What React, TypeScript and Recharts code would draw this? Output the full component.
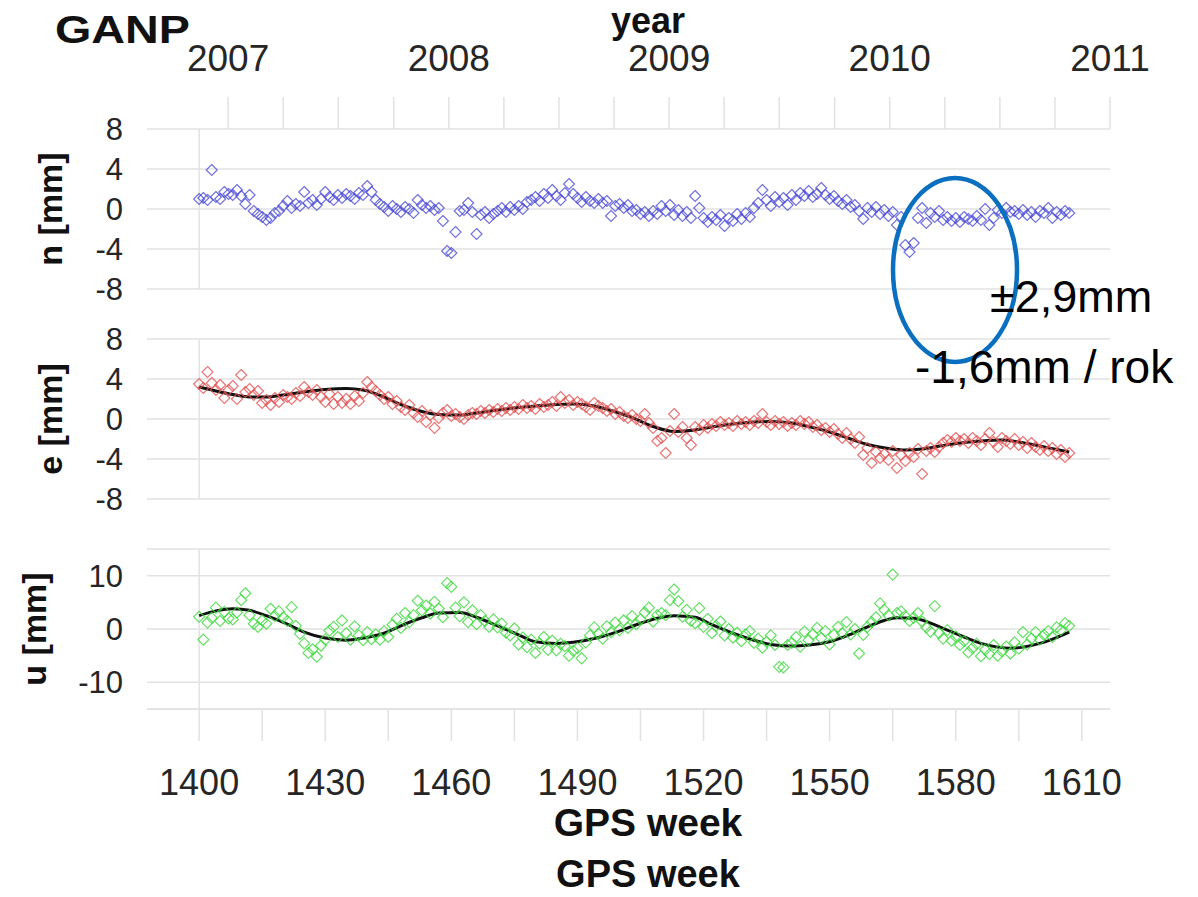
import React from "react";
import { ComposedChart, Scatter, Line, XAxis, YAxis, CartesianGrid, ReferenceLine } from "recharts";

// weekly solutions, first one is GPS week 1400
const FIRST_WEEK = 1400;

const nValues = [
  1.0, 1.1, 0.9, 3.9, 1.2, 1.0, 1.7, 1.5, 1.4, 1.9,
  1.3, 0.5, 1.4, -0.2, -0.5, -0.8, -1.1, -0.9, -0.4, -0.2,
  0.3, 0.8, 0.1, 0.5, 0.3, 1.7, 0.6, 0.9, 0.4, 1.0,
  1.7, 1.2, 0.9, 1.4, 1.1, 1.5, 1.3, 1.0, 1.6, 1.4,
  2.3, 1.7, 0.9, 0.5, 0.2, -0.2, 0.3, 0.0, -0.3, 0.2,
  0.0, -0.4, 0.9, 0.4, 0.1, 0.3, -0.1, 0.1, -1.2, -4.2,
  -4.4, -2.3, -0.2, -0.1, 0.6, -0.3, -2.5, -0.6, -0.3, -0.9,
  -0.5, -0.2, 0.1, -0.3, 0.2, -0.1, 0.3, 0.0, 0.7, 0.9,
  1.2, 0.8, 1.5, 1.1, 1.9, 1.3, 0.9, 1.6, 2.5, 1.5,
  1.1, 0.7, 1.2, 0.8, 0.6, 1.0, 0.6, 0.8, -0.7, 0.3,
  0.5, 0.1, 0.4, -0.2, -0.1, -0.5, -0.3, -0.7, -0.2, -0.5,
  0.3, -0.2, 0.4, -0.6, -0.1, -0.7, -0.3, -0.9, 1.3, 0.1,
  -0.9, -1.3, -0.8, -1.1, -0.6, -1.7, -0.9, -1.2, -0.5, -1.0,
  -0.4, -0.8, 0.1, 0.6, 1.9, 0.9, 0.3, 1.2, 0.7, 1.1,
  0.4, 1.4, 0.9, 1.6, 1.3, 1.8, 1.2, 1.5, 2.1, 1.4,
  1.0, 1.3, 0.8, 0.5, 0.9, 0.2, 0.4, -0.2, -1.0, 0.1,
  -0.3, 0.2, -0.5, -0.1, -0.7, -0.3, -1.6, -0.8, -3.6, -4.3,
  -3.4, -0.9, 0.1, -1.4, -0.4, -0.8, -0.2, -1.1, -0.8, -1.2,
  -0.9, -1.3, -0.8, -1.0, -1.2, -0.7, -1.1, 0.0, -1.6, -0.9,
  -0.1, -0.4, 0.1, -0.3, -0.2, -0.5, -0.1, -0.6, -0.3, -0.8,
  -0.2, -0.4, 0.1, -0.9, -0.3, -0.6, -0.2, -0.4,
];

const eValues = [
  3.5, 3.1, 4.7, 3.6, 2.9, 3.4, 2.1, 2.9, 3.3, 2.0,
  4.4, 2.7, 3.0, 2.4, 2.8, 1.6, 1.9, 1.4, 2.1, 1.7,
  2.4, 2.2, 2.0, 2.6, 2.3, 3.2, 2.7, 2.4, 2.9, 2.2,
  1.7, 2.5, 1.5, 2.2, 1.6, 2.0, 1.5, 2.3, 1.8, 2.6,
  3.7, 3.2, 2.8, 2.4, 2.0, 2.2, 1.5, 1.8, 1.2, 0.9,
  1.4, 0.6, 0.2, 0.8, -0.3, 0.4, -0.9, 0.1, 0.6, 0.9,
  0.3, 0.5, 0.2, 0.0, 0.4, 0.6, 0.5, 0.8, 0.6, 0.9,
  0.7, 1.0, 0.8, 1.1, 0.9, 1.2, 1.0, 1.4, 1.1, 1.3,
  1.0, 1.5, 1.2, 1.4, 1.7, 1.3, 2.2, 1.6, 1.9, 1.4,
  1.7, 1.5, 1.2, 0.9, 1.6, 1.3, 1.1, 0.8, 1.0, 0.5,
  0.7, 0.3, 0.1, 0.4, 0.0, -0.2, 0.5, -0.4, -0.9, -2.2,
  -1.9, -3.4, -1.2, 0.5, -1.3, -0.8, -1.9, -2.6, -0.8, -1.1,
  -0.6, -0.9, -0.5, -0.7, -0.3, -0.6, -0.4, -0.7, -0.2, -0.5,
  -0.3, -0.6, -0.2, -0.4, 0.5, -0.3, -0.6, -0.2, -0.5, -0.3,
  -0.7, -0.4, -0.6, -0.2, -0.5, -0.3, -0.8, -0.6, -1.1, -0.9,
  -1.3, -1.0, -1.5, -1.9, -1.4, -2.0, -2.4, -1.8, -3.6, -2.9,
  -4.4, -3.3, -3.9, -3.5, -4.1, -3.2, -4.9, -3.6, -4.2, -3.4,
  -3.8, -3.0, -5.5, -3.2, -2.9, -3.3, -2.8, -2.4, -2.1, -2.3,
  -1.9, -2.2, -2.0, -2.4, -1.9, -2.2, -2.6, -2.0, -1.4, -2.3,
  -2.8, -1.9, -2.2, -2.5, -2.0, -2.6, -2.3, -2.9, -2.4, -2.8,
  -3.1, -2.7, -3.2, -2.9, -3.5, -3.1, -3.8, -3.4,
];

const uValues = [
  2.3, -2.0, 1.2, 2.1, 4.0, 1.5, 3.2, 2.0, 1.8, 3.1,
  5.4, 6.7, 2.6, 1.0, 0.4, 1.6, 1.0, 3.8, 2.4, 3.3,
  2.2, 1.5, 4.1, 0.6, -0.9, -2.7, -4.5, -3.8, -5.2, -3.1,
  -2.0, -0.3, 0.4, -1.5, 1.6, -0.8, -2.0, 0.5, -1.2, -2.1,
  -0.6, -1.9, -1.0, -2.0, -0.4, -1.5, 0.8, 1.9, 0.2, 3.0,
  1.3, 2.6, 5.3, 3.5, 4.4, 2.9, 5.1, 3.8, 2.2, 8.6,
  7.9, 4.0, 2.4, 5.0, 1.3, 3.5, 0.9, 2.6, 1.5, 0.4,
  1.8, 0.3, 1.0, -0.7, -1.2, 0.1, -2.9, -1.6, -3.4, -2.0,
  -4.5, -2.7, -1.5, -3.9, -2.2, -4.0, -2.8, -3.2, -5.0, -4.1,
  -3.6, -5.5, -2.5, -1.2, 0.3, -0.9, -1.8, 0.5, -0.6, 1.2,
  -0.2, 1.6, 0.2, 2.4, 0.9, 1.8, 3.1, 4.0, 1.4, 2.6,
  3.0, 2.6, 5.4, 7.4, 5.2, 2.3, 3.6, 1.5, 1.1, 3.9,
  0.4, 1.9, -0.8, 0.6, 1.4, -1.2, 0.0, -1.6, -0.7, -2.3,
  -1.0, -0.4, -2.6, -1.8, -3.5, -2.4, -1.2, -3.0, -7.1, -7.2,
  -3.0, -2.6, -1.5, -3.3, -0.5, -2.1, -1.0, 0.2, -1.7, -0.4,
  -2.9, -1.1, 0.4, -0.8, 1.3, -1.0, 0.0, -4.6, -1.1, 0.4,
  1.3, 2.2, 4.8, 3.6, 2.6, 10.2, 3.0, 3.3, 2.4, 1.5,
  2.1, 3.0, 1.4, 0.3, -0.5, 4.3, -0.8, -1.8, -0.2, -2.2,
  -1.4, -3.0, -2.3, -4.4, -3.6, -2.8, -5.1, -3.9, -4.7, -3.0,
  -5.0, -4.2, -3.3, -4.6, -2.5, -3.7, -0.6, -2.9, -1.8, -0.6,
  -2.0, -1.1, -0.4, -1.5, 0.3, -0.2, 1.1, 0.6,
];

// fitted curves (black lines)
const eTrendWeeks = [1400, 1404, 1408, 1412, 1416, 1420, 1425, 1430, 1435, 1439, 1444, 1448, 1453, 1457, 1462, 1466, 1471, 1476, 1480, 1485, 1489, 1494, 1498, 1503, 1508, 1513, 1518, 1522, 1527, 1532, 1536, 1541, 1545, 1550, 1555, 1559, 1564, 1568, 1572, 1577, 1582, 1586, 1591, 1595, 1600, 1604, 1607];
const eTrendValues = [3.2, 2.8, 2.45, 2.2, 2.2, 2.4, 2.7, 2.95, 3.05, 2.9, 2.2, 1.45, 0.75, 0.45, 0.4, 0.6, 0.9, 1.15, 1.3, 1.45, 1.5, 1.3, 0.85, 0.15, -0.75, -1.25, -1.1, -0.8, -0.5, -0.3, -0.25, -0.4, -0.75, -1.3, -2.0, -2.55, -2.95, -3.1, -3.0, -2.65, -2.35, -2.2, -2.1, -2.3, -2.7, -3.05, -3.3];

const uTrendWeeks = [1400, 1404, 1408, 1412, 1416, 1421, 1425, 1430, 1435, 1439, 1444, 1448, 1453, 1457, 1462, 1466, 1471, 1476, 1480, 1485, 1489, 1495, 1500, 1504, 1509, 1513, 1518, 1522, 1527, 1532, 1536, 1541, 1545, 1550, 1555, 1559, 1563, 1566, 1570, 1574, 1577, 1582, 1586, 1590, 1593, 1596, 1600, 1604, 1607];
const uTrendValues = [2.5, 3.4, 3.8, 3.5, 2.5, 0.9, -0.6, -1.7, -2.1, -1.7, -0.8, 0.6, 2.1, 3.0, 3.1, 2.2, 0.6, -1.1, -2.4, -2.7, -2.5, -1.6, -0.4, 0.8, 2.0, 2.5, 2.2, 0.8, -0.8, -2.1, -2.9, -3.2, -3.0, -2.4, -1.0, 0.4, 1.6, 2.1, 2.0, 1.1, 0.1, -1.5, -2.7, -3.4, -3.6, -3.4, -2.7, -1.6, -0.6];

const weekTicks = [1400, 1415, 1430, 1445, 1460, 1475, 1490, 1505, 1520, 1535, 1550, 1565, 1580, 1595, 1610];
const weekLabels = [1400, 1430, 1460, 1490, 1520, 1550, 1580, 1610];
// quarter-year marks of the top axis, placed in GPS weeks as drawn in the figure
const yearTickWeeks = [1406.9, 1420.0, 1433.1, 1446.3, 1459.4, 1472.5, 1485.6, 1498.7, 1511.8, 1524.9, 1538.0, 1551.2, 1564.3, 1577.4, 1590.5, 1603.6, 1616.7];
const yearLabels = ["2007", "2008", "2009", "2010", "2011"];
const nTicks = [-8, -4, 0, 4, 8];
const eTicks = [-8, -4, 0, 4, 8];
const uTicks = [-10, 0, 10];

const weekDomain: [number, number] = [1387.6, 1616.7];

const FONT = "'Liberation Sans', Arial, Helvetica, sans-serif";
const GRID = "#e2e2e2";

const toPoints = (values: number[]) => values.map((value, i) => ({ week: FIRST_WEEK + i, value }));
const toTrend = (weeks: number[], values: number[]) => weeks.map((week, i) => ({ week, value: values[i] }));

const diamond = (color: string) => (props: any) => {
  const { cx, cy } = props;
  if (cx == null || cy == null) return <g />;
  const r = 5.5;
  return (
    <path
      d={`M${cx},${cy - r}L${cx + r},${cy}L${cx},${cy + r}L${cx - r},${cy}Z`}
      fill="none"
      stroke={color}
      strokeWidth={1.2}
      strokeOpacity={0.8}
    />
  );
};

interface PanelProps {
  top: number;
  height: number;
  marginTop: number;
  marginBottom: number;
  values: number[];
  trend?: { week: number; value: number }[];
  color: string;
  ticks: number[];
  domain: [number, number];
  label: string;
  labelOffset: number;
  axis: "years" | "weeks" | "none";
}

const Panel: React.FC<PanelProps> = ({ top, height, marginTop, marginBottom, values, trend, color, ticks, domain, label, labelOffset, axis }) => (
  <div style={{ position: "absolute", left: 0, top, width: 1198, height }}>
    <ComposedChart width={1198} height={height} margin={{ top: marginTop, right: 88, bottom: marginBottom, left: 0 }}>
      <CartesianGrid xAxisId="week" vertical={false} stroke={GRID} strokeWidth={1.5} />
      {axis === "years" ? (
        <XAxis
          xAxisId="week"
          orientation="top"
          type="number"
          dataKey="week"
          domain={weekDomain}
          allowDataOverflow
          ticks={yearTickWeeks}
          interval={0}
          height={80}
          axisLine={false}
          tickLine={{ stroke: GRID, strokeWidth: 1.5 }}
          tickSize={32}
          tickMargin={26}
          tickFormatter={(_v: number, i: number) => (i % 4 === 0 ? yearLabels[i / 4] : "")}
          tick={{ fontSize: 37, fill: "#262626" }}
        />
      ) : (
        <XAxis
          xAxisId="week"
          type="number"
          dataKey="week"
          domain={weekDomain}
          allowDataOverflow
          ticks={weekTicks}
          interval={0}
          hide={axis === "none"}
          height={90}
          axisLine={{ stroke: GRID, strokeWidth: 1.5 }}
          tickLine={{ stroke: GRID, strokeWidth: 1.5 }}
          tickSize={32}
          tickMargin={28}
          tickFormatter={(v: number) => (weekLabels.includes(v) ? String(v) : "")}
          tick={{ fontSize: 36, fill: "#262626" }}
        />
      )}
      <YAxis
        type="number"
        dataKey="value"
        domain={domain}
        ticks={ticks}
        interval={0}
        width={147}
        axisLine={false}
        tickLine={false}
        tickSize={6}
        tickMargin={18}
        tick={{ fontSize: 31, fill: "#262626" }}
        label={{
          value: label,
          angle: -90,
          position: "insideLeft",
          offset: labelOffset,
          style: { textAnchor: "middle", fontSize: 34, fontWeight: 700, fill: "#111" },
        }}
      />
      <ReferenceLine xAxisId="week" x={FIRST_WEEK} stroke={GRID} strokeWidth={1.5} />
      <Scatter
        xAxisId="week"
        data={toPoints(values)}
        dataKey="value"
        shape={diamond(color)}
        isAnimationActive={false}
      />
      {trend && (
        <Line
          xAxisId="week"
          data={trend}
          dataKey="value"
          type="monotone"
          stroke="#111"
          strokeWidth={3}
          dot={false}
          activeDot={false}
          isAnimationActive={false}
        />
      )}
    </ComposedChart>
  </div>
);

const App: React.FC = () => (
  <div style={{ position: "absolute", left: 0, top: 0, width: 1198, height: 897, background: "#fff", fontFamily: FONT, overflow: "hidden" }}>
    <Panel top={0} height={320} marginTop={49} marginBottom={31} values={nValues} color="#4e4ed6" ticks={nTicks} domain={[-8, 8]} label="n [mm]" labelOffset={50} axis="years" />
    <Panel top={300} height={230} marginTop={39} marginBottom={31} values={eValues} trend={toTrend(eTrendWeeks, eTrendValues)} color="#e25555" ticks={eTicks} domain={[-8, 8]} label="e [mm]" labelOffset={50} axis="none" />
    <Panel top={510} height={300} marginTop={39} marginBottom={11} values={uValues} trend={toTrend(uTrendWeeks, uTrendValues)} color="#3ed83e" ticks={uTicks} domain={[-15, 15]} label="u [mm]" labelOffset={34} axis="weeks" />
    <svg width={1198} height={897} style={{ position: "absolute", left: 0, top: 0, pointerEvents: "none" }} fontFamily={FONT}>
      <text x={55} y={43} fontSize={38} fontWeight={700} fill="#111" textLength={135} lengthAdjust="spacingAndGlyphs">GANP</text>
      <text x={648} y={33} fontSize={36} fontWeight={700} fill="#111" textAnchor="middle">year</text>
      <text x={648} y={836} fontSize={39} fontWeight={700} fill="#111" textAnchor="middle">GPS week</text>
      <text x={648} y={887} fontSize={38} fontWeight={700} fill="#111" textAnchor="middle">GPS week</text>
      <ellipse cx={955} cy={270} rx={62} ry={92} fill="none" stroke="#0b6fc0" strokeWidth={4.5} />
      <text x={990} y={312} fontSize={45} fill="#000">±2,9mm</text>
      <text x={915} y={383} fontSize={46} fill="#000">-1,6mm / rok</text>
    </svg>
  </div>
);

export default App;
